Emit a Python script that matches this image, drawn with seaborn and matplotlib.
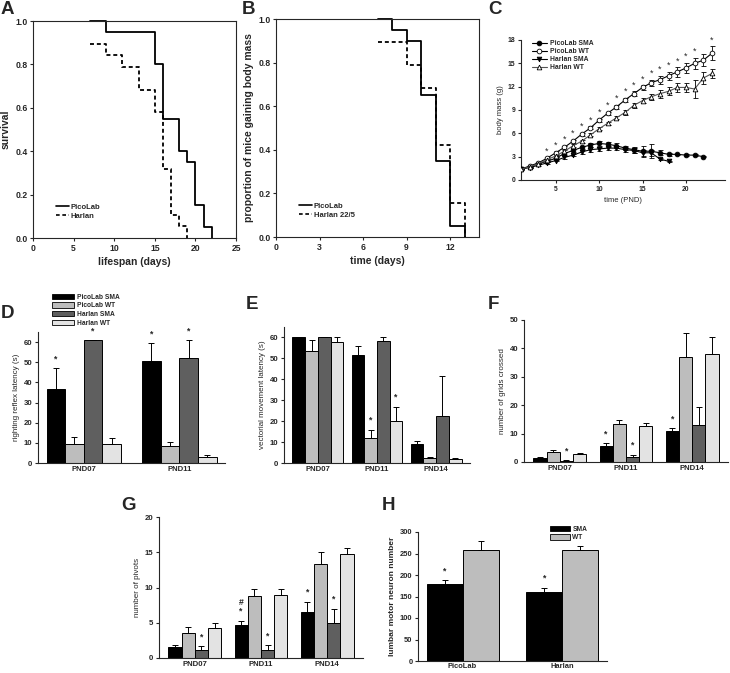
import matplotlib
matplotlib.use("Agg")
import matplotlib.pyplot as plt
from matplotlib.patches import Patch
from matplotlib.lines import Line2D
import numpy as np
import pandas as pd
import seaborn as sns

##################################################################################
# data
##################################################################################
# A - survival
surv_pico_t = [7, 9, 15, 16, 18, 19, 20, 21, 22]
surv_pico_p = [1.0, 0.95, 0.80, 0.55, 0.40, 0.35, 0.15, 0.05, 0.0]
surv_harl_t = [7, 9, 11, 13, 15, 16, 17, 18, 19]
surv_harl_p = [0.895, 0.842, 0.789, 0.684, 0.579, 0.316, 0.105, 0.053, 0.0]

# B - proportion gaining body mass
gain_pico_t = [7, 8, 9, 10, 11, 12, 13]
gain_pico_p = [1.0, 0.95, 0.90, 0.65, 0.35, 0.05, 0.0]
gain_harl_t = [7, 9, 10, 11, 12, 13]
gain_harl_p = [0.895, 0.789, 0.684, 0.421, 0.158, 0.0]

# C - body mass
days_wt = list(range(1, 24))
pico_wt = [1.4, 1.8, 2.2, 2.8, 3.5, 4.2, 5.0, 5.9, 6.7, 7.7, 8.6, 9.4, 10.3, 11.1,
           11.9, 12.5, 12.9, 13.4, 13.9, 14.4, 15.0, 15.4, 16.3]
pico_wt_err = [0.1, 0.1, 0.1, 0.15, 0.2, 0.2, 0.2, 0.2, 0.2, 0.2, 0.2, 0.25, 0.3, 0.3,
               0.3, 0.4, 0.5, 0.5, 0.6, 0.7, 0.7, 0.8, 0.9]
harl_wt = [1.4, 1.7, 2.1, 2.6, 3.1, 3.7, 4.4, 5.0, 5.8, 6.6, 7.3, 8.0, 8.7, 9.6,
           10.2, 10.7, 11.1, 11.4, 11.9, 11.9, 11.7, 13.1, 13.7]
harl_wt_err = [0.1, 0.1, 0.1, 0.1, 0.15, 0.15, 0.2, 0.2, 0.2, 0.2, 0.2, 0.2, 0.3, 0.3,
               0.3, 0.4, 0.5, 0.5, 0.6, 0.6, 1.2, 0.8, 0.6]
days_pico_sma = list(range(1, 23))
pico_sma = [1.4, 1.7, 2.1, 2.4, 2.8, 3.4, 3.8, 4.2, 4.5, 4.7, 4.6, 4.4, 4.1, 3.9,
            3.7, 3.7, 3.5, 3.3, 3.3, 3.2, 3.2, 3.0]
pico_sma_err = [0.05, 0.1, 0.1, 0.1, 0.15, 0.15, 0.2, 0.2, 0.2, 0.3, 0.3, 0.3, 0.3, 0.4,
                0.7, 0.9, 0.3, 0.2, 0.1, 0.1, 0.1, 0.1]
days_harl_sma = list(range(1, 19))
harl_sma = [1.4, 1.6, 1.9, 2.2, 2.5, 2.9, 3.2, 3.6, 3.9, 4.0, 4.1, 4.1, 3.9, 3.8,
            3.5, 3.5, 2.7, 2.4]
harl_sma_err = [0.05, 0.1, 0.1, 0.1, 0.1, 0.15, 0.15, 0.2, 0.3, 0.3, 0.3, 0.3, 0.3, 0.3,
                0.4, 0.4, 0.1, 0.1]
star_days_c = [4, 5, 6, 7, 8, 9, 10, 11, 12, 13, 14, 15, 16, 17, 18, 19, 20, 21, 23]

SERIES = ["PicoLab SMA", "PicoLab WT", "Harlan SMA", "Harlan WT"]
BAR_COLORS = ["#000000", "#bdbdbd", "#5f5f5f", "#e3e3e3"]

# D - righting reflex
d_groups = ["PND07", "PND11"]
d_vals = [[36.5, 50.5], [9.5, 8.5], [61, 52], [9.5, 3.0]]
d_errs = [[10.5, 9.0], [3.5, 2.0], [0, 9.0], [3.0, 0.8]]
d_stars = [(0, 0, "*"), (2, 0, "*"), (0, 1, "*"), (2, 1, "*")]

# E - vectorial movement
e_groups = ["PND07", "PND11", "PND14"]
e_vals = [[60, 51.5, 9.0], [53.5, 12.0, 2.5], [60, 58.5, 22.5], [58.0, 20.0, 1.8]]
e_errs = [[0, 4.5, 1.5], [5.5, 4.0, 0.5], [0, 1.5, 19.0], [2.0, 7.0, 0.8]]
e_stars = [(1, 1, "*"), (3, 1, "*")]

# F - grids crossed
f_groups = ["PND07", "PND11", "PND14"]
f_vals = [[1.5, 5.5, 11.0], [3.5, 13.3, 37.0], [0.5, 1.8, 13.0], [2.7, 12.7, 38.0]]
f_errs = [[0.3, 1.2, 1.0], [0.8, 1.5, 8.5], [0.2, 0.7, 6.5], [0.4, 1.2, 6.0]]
f_stars = [(2, 0, "*"), (0, 1, "*"), (2, 1, "*"), (0, 2, "*")]

# G - pivots
g_groups = ["PND07", "PND11", "PND14"]
g_vals = [[1.5, 4.75, 6.5], [3.5, 8.8, 13.3], [1.2, 1.2, 4.95], [4.3, 9.0, 14.7]]
g_errs = [[0.4, 0.55, 1.5], [0.9, 1.0, 1.7], [0.45, 0.6, 2.05], [0.7, 0.75, 0.9]]
g_stars = [(2, 0, "*"), (0, 1, "#\n*"), (2, 1, "*"), (0, 2, "*"), (2, 2, "*")]

# H - motor neurons
h_groups = ["PicoLab", "Harlan"]
h_series = ["SMA", "WT"]
h_vals = [[178.5, 160.8], [257.0, 257.7]]
h_errs = [[9.0, 10.0], [21.0, 9.5]]
h_stars = [(0, 0, "*"), (0, 1, "*")]

##################################################################################
sns.set_style("ticks")
plt.rcParams["font.family"] = ["Liberation Sans", "DejaVu Sans"]
plt.rcParams["axes.linewidth"] = 0.8
plt.rcParams["xtick.major.width"] = 0.8
plt.rcParams["ytick.major.width"] = 0.8

W, H = 730, 673
fig = plt.figure(figsize=(W / 100, H / 100), dpi=100)


def add_axes(l, r, t, b):
    return fig.add_axes([l / W, 1 - b / H, (r - l) / W, (b - t) / H])


def panel_letter(x, y, s):
    fig.text(x / W, 1 - y / H, s, fontsize=13.5, fontweight="bold", ha="left", va="center")


def style_ticks(ax, size, bold=True):
    ax.tick_params(length=2.5, width=0.8, pad=1.5, labelsize=size)
    for t in ax.get_xticklabels() + ax.get_yticklabels():
        t.set_fontweight("bold" if bold else "normal")


def bar_panel(ax, groups, series, values, errs, colors, width, stars, ylim, yticks, ylabel,
              tick_size=5.6, label_size=5.8):
    rows = [(g, s, v) for s, vals in zip(series, values) for g, v in zip(groups, vals)]
    df = pd.DataFrame(rows, columns=["group", "series", "value"])
    sns.barplot(data=df, x="group", y="value", hue="series", order=groups, hue_order=series,
                palette=colors, width=width, errorbar=None, edgecolor="black", linewidth=0.7,
                saturation=1, ax=ax, legend=False)
    bars = list(ax.containers)
    for cont, e in zip(bars, errs):
        xs = [p.get_x() + p.get_width() / 2 for p in cont]
        ys = [p.get_height() for p in cont]
        ax.errorbar(xs, ys, yerr=[np.zeros(len(e)), e], fmt="none", ecolor="black",
                    elinewidth=0.7, capsize=2.2, capthick=0.7, zorder=1)
    for s, g, txt in stars:
        p = bars[s][g]
        top = p.get_height() + errs[s][g]
        ax.annotate(txt, (p.get_x() + p.get_width() / 2, top), xytext=(0, 3.5),
                    textcoords="offset points", ha="center", va="bottom",
                    fontsize=6.2, fontweight="bold", linespacing=0.9, annotation_clip=False)
    ax.set_ylim(*ylim)
    ax.set_yticks(yticks)
    ax.set_xlabel("")
    ax.set_ylabel(ylabel, fontsize=label_size, labelpad=3)
    sns.despine(ax=ax)
    style_ticks(ax, tick_size)
    ax.tick_params(axis="x", length=0, pad=2.5)


# ---------------- A
ax = add_axes(33, 236, 21, 238)
sns.lineplot(x=surv_pico_t, y=surv_pico_p, drawstyle="steps-post", color="black", lw=1.3,
             clip_on=False, ax=ax)
sns.lineplot(x=surv_harl_t, y=surv_harl_p, drawstyle="steps-post", color="black", lw=1.3,
             linestyle=(0, (2.2, 1.6)), ax=ax)
ax.set_xlim(0, 25)
ax.set_ylim(0, 1.0)
ax.set_xticks(range(0, 26, 5))
ax.set_yticks(np.arange(0, 1.01, 0.2))
ax.yaxis.set_major_formatter(matplotlib.ticker.FormatStrFormatter("%.1f"))
ax.set_xlabel("lifespan (days)", fontsize=7.5, fontweight="bold", labelpad=3)
ax.set_ylabel("survival", fontsize=7.5, fontweight="bold", labelpad=3)
style_ticks(ax, 6.2)
hA = [Line2D([], [], color="black", lw=1.2), Line2D([], [], color="black", lw=1.2, ls=(0, (2.2, 1.6)))]
ax.legend(hA, ["PicoLab", "Harlan"], loc="lower left", bbox_to_anchor=(0.1, 0.07), frameon=False,
          prop={"size": 5.5, "weight": "bold"}, handlelength=1.6, handletextpad=0.3, labelspacing=0.2,
          borderaxespad=0)
panel_letter(1, 9, "A")

# ---------------- B
ax = add_axes(276, 479, 19, 237)
sns.lineplot(x=gain_pico_t, y=gain_pico_p, drawstyle="steps-post", color="black", lw=1.3,
             clip_on=False, ax=ax)
sns.lineplot(x=gain_harl_t, y=gain_harl_p, drawstyle="steps-post", color="black", lw=1.3,
             linestyle=(0, (2.2, 1.6)), ax=ax)
ax.set_xlim(0, 14)
ax.set_ylim(0, 1.0)
ax.set_xticks(range(0, 13, 3))
ax.set_yticks(np.arange(0, 1.01, 0.2))
ax.yaxis.set_major_formatter(matplotlib.ticker.FormatStrFormatter("%.1f"))
ax.set_xlabel("time (days)", fontsize=7.5, fontweight="bold", labelpad=3)
ax.set_ylabel("proportion of mice gaining body mass", fontsize=7.5, fontweight="bold", labelpad=3)
style_ticks(ax, 6.2)
ax.legend(hA, ["PicoLab", "Harlan 22/5"], loc="lower left", bbox_to_anchor=(0.1, 0.07), frameon=False,
          prop={"size": 5.5, "weight": "bold"}, handlelength=1.6, handletextpad=0.3, labelspacing=0.2,
          borderaxespad=0)
panel_letter(242, 9, "B")

# ---------------- C
ax = add_axes(521, 725, 40, 180)
c_series = [
    ("PicoLab SMA", days_pico_sma, pico_sma, pico_sma_err, "o", "black", "black"),
    ("PicoLab WT", days_wt, pico_wt, pico_wt_err, "o", "white", "black"),
    ("Harlan SMA", days_harl_sma, harl_sma, harl_sma_err, "v", "black", "black"),
    ("Harlan WT", days_wt, harl_wt, harl_wt_err, "^", "white", "#555555"),
]
for name, xd, yd, ed, mk, fc, lc in c_series:
    ax.errorbar(xd, yd, yerr=ed, fmt="none", ecolor="black", elinewidth=0.6, capsize=1.8,
                capthick=0.6, zorder=2)
    sns.lineplot(x=xd, y=yd, color=lc, lw=0.8, marker=mk, markersize=3.4, markerfacecolor=fc,
                 markeredgecolor="black", markeredgewidth=0.6, label=name, ax=ax, zorder=3)
for d in star_days_c:
    i = days_wt.index(d)
    ax.text(d, pico_wt[i] + pico_wt_err[i] + 0.8, "*", ha="center", va="center", fontsize=6.5,
            clip_on=False)
ax.set_xlim(1, 24.5)
ax.set_ylim(0, 18)
ax.set_xticks([5, 10, 15, 20])
ax.set_yticks(range(0, 19, 3))
ax.set_xlabel("time (PND)", fontsize=5.5, labelpad=3)
ax.set_ylabel("body mass (g)", fontsize=5.5, labelpad=3)
sns.despine(ax=ax)
style_ticks(ax, 4.9)
ax.legend(loc="upper left", bbox_to_anchor=(0.04, 1.02), frameon=False,
          prop={"size": 4.9, "weight": "bold"}, handlelength=2.2, handletextpad=0.5,
          labelspacing=0.15, borderaxespad=0)
panel_letter(488, 9, "C")

# ---------------- D
ax = add_axes(38, 225, 332, 463)
bar_panel(ax, d_groups, SERIES, d_vals, d_errs, BAR_COLORS, 0.78, d_stars,
          (0, 65), range(0, 61, 10), "righting reflex latency (s)")
hD = [Patch(facecolor=c, edgecolor="black", lw=0.6) for c in BAR_COLORS]
fig.legend(hD, SERIES, loc="upper left", bbox_to_anchor=(49 / W, 1 - 291 / H), frameon=False,
           prop={"size": 4.8, "weight": "bold"}, handlelength=3.4, handleheight=0.8,
           handletextpad=0.4, labelspacing=0.25, borderaxespad=0)
panel_letter(1, 314, "D")

# ---------------- E
ax = add_axes(284, 470, 327, 463)
bar_panel(ax, e_groups, SERIES, e_vals, e_errs, BAR_COLORS, 0.86, e_stars,
          (0, 65), range(0, 61, 10), "vectorial movement latency (s)")
panel_letter(246, 305, "E")

# ---------------- F
ax = add_axes(524, 728, 320, 462)
bar_panel(ax, f_groups, SERIES, f_vals, f_errs, BAR_COLORS, 0.8, f_stars,
          (0, 50), range(0, 51, 10), "number of grids crossed")
panel_letter(488, 305, "F")

# ---------------- G
ax = add_axes(159, 363, 517, 658)
bar_panel(ax, g_groups, SERIES, g_vals, g_errs, BAR_COLORS, 0.8, g_stars,
          (0, 20), range(0, 21, 5), "number of pivots")
panel_letter(121, 505, "G")

# ---------------- H
ax = add_axes(418, 607, 532, 661)
bar_panel(ax, h_groups, h_series, h_vals, h_errs, ["#000000", "#bdbdbd"], 0.72, h_stars,
          (0, 300), range(0, 301, 50), "lumbar motor neuron number",
          tick_size=5.4, label_size=6.0)
ax.yaxis.label.set_fontweight("bold")
ax.tick_params(axis="x", pad=1.5)
hH = [Patch(facecolor=c, edgecolor="black", lw=0.6) for c in ["#000000", "#bdbdbd"]]
ax.legend(hH, h_series, loc="upper left", bbox_to_anchor=(547 / W, 1 - 523 / H),
          bbox_transform=fig.transFigure, frameon=False, prop={"size": 4.8, "weight": "bold"},
          handlelength=3.0, handleheight=0.8, handletextpad=0.4, labelspacing=0.25, borderaxespad=0)
panel_letter(382, 505, "H")

fig.savefig("out.png", dpi=100)
